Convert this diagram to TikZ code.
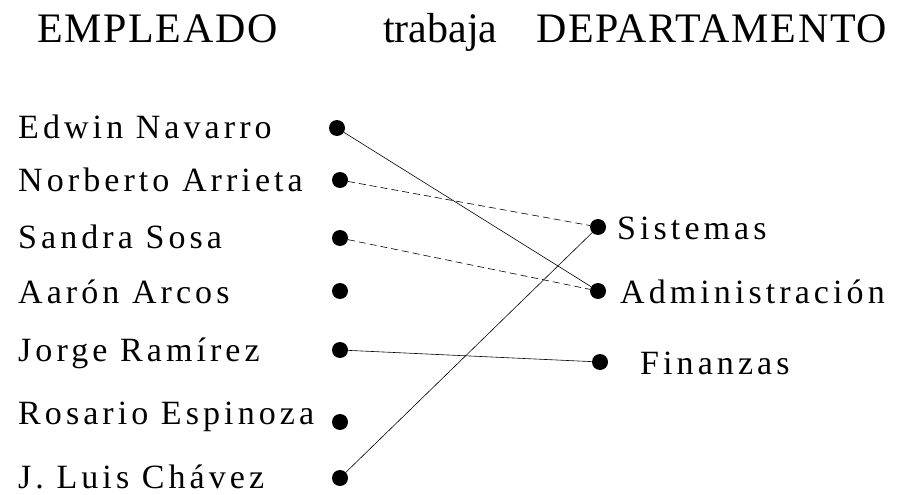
\documentclass[tikz,border=0pt]{standalone}
\usepackage{fontspec}
\setmainfont{Liberation Serif}
\newfontfamily\nombrefont[LetterSpace=12]{Liberation Serif}
\newfontfamily\titulofont[LetterSpace=4]{Liberation Serif}
\newcommand{\nombres}{\nombrefont\fontsize{34}{40}\selectfont}
\newcommand{\titulos}{\titulofont\fontsize{42}{50}\selectfont}

\begin{document}
\begin{tikzpicture}[x=1pt,y=-1pt,
		punto/.style={circle,fill=black,inner sep=0pt,minimum size=16pt},
		lbl/.style={anchor=base west,inner sep=0pt,font=\nombres},
		cab/.style={anchor=base west,inner sep=0pt,font=\titulos},
		enlace/.style={line width=0.6pt},
		enlaceroto/.style={line width=0.6pt,dash pattern=on 7pt off 4pt}]
		\useasboundingbox (0,0) rectangle (911,495);

		% encabezado
		\node[cab] (empleado) at (37,43) {EMPLEADO};
		\node[cab,font={\rmfamily\fontsize{42}{50}\selectfont}] (trabaja) at (383,43) {trabaja};
		\node[cab] (departamento) at (536,43) {DEPARTAMENTO};

		% empleados
		\node[lbl] (edwin) at (18,139) {Edwin Navarro};
		\node[lbl] (norberto) at (18,191) {Norberto Arrieta};
		\node[lbl] (sandra) at (18,248) {Sandra Sosa};
		\node[lbl] (aaron) at (18,303) {Aarón Arcos};
		\node[lbl] (jorge) at (18,361) {Jorge Ramírez};
		\node[lbl] (rosario) at (18,424) {Rosario Espinoza};
		\node[lbl] (luis) at (18,488) {J. Luis Chávez};

		\node[punto] (p1) at (337,128) {};
		\node[punto] (p2) at (340,180) {};
		\node[punto] (p3) at (340,238) {};
		\node[punto] (p4) at (340,291) {};
		\node[punto] (p5) at (340,350) {};
		\node[punto] (p6) at (340,422) {};
		\node[punto] (p7) at (340,478) {};

		% departamentos
		\node[punto] (d1) at (598,227) {};
		\node[punto] (d2) at (598,291) {};
		\node[punto] (d3) at (600,362) {};

		\node[lbl] (sistemas) at (617,239) {Sistemas};
		\node[lbl] (admin) at (620,303) {Administración};
		\node[lbl] (finanzas) at (640,374) {Finanzas};

		% relación trabaja
		\draw[enlace] (p1) -- (d2);
		\draw[enlaceroto] (p2) -- (d1);
		\draw[enlaceroto] (p3) -- (d2);
		\draw[enlace] (p5) -- (d3);
		\draw[enlace] (p7) -- (d1);
	\end{tikzpicture}
\end{document}
